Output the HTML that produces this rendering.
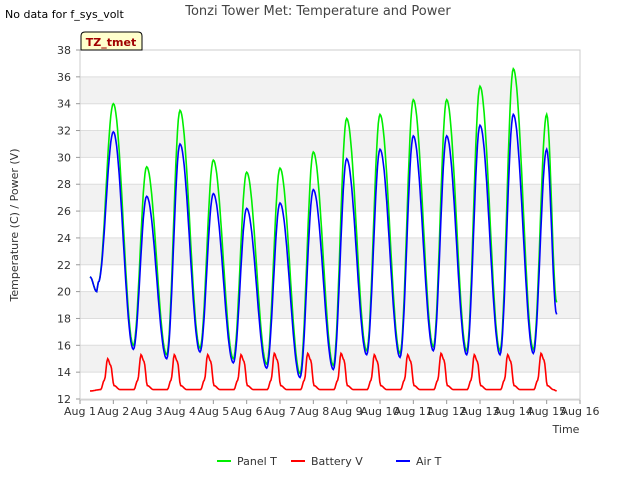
<!DOCTYPE html>
<html><head><meta charset="utf-8"><style>
body{margin:0;background:#fff;font-family:"Liberation Sans",sans-serif;}
svg text{font-family:"DejaVu Sans","Liberation Sans",sans-serif;}
</style></head><body>
<svg id="c" width="640" height="480" xmlns="http://www.w3.org/2000/svg">
<text x="5" y="18" font-size="11" fill="#000">No data for f_sys_volt</text>
<text x="318" y="15" font-size="13" fill="#444" text-anchor="middle">Tonzi Tower Met: Temperature and Power</text>
<g id="grid"></g>
<g id="series"></g>
<rect x="80" y="50" width="500" height="350" fill="none" stroke="#ccc"/>
<g id="axes"></g>
<text x="18" y="225" font-size="11" fill="#333" text-anchor="middle" transform="rotate(-90 18 225)">Temperature (C) / Power (V)</text>
<text x="566" y="433" font-size="11" fill="#333" text-anchor="middle">Time</text>
<g>
<path d="M81,50 L81,36 Q81,32 85,32 L138,32 Q142,32 142,36 L142,50 Z" fill="#ffffcc" stroke="#000"/>
<text x="111" y="46" font-size="11" font-weight="bold" fill="#a00000" text-anchor="middle">TZ_tmet</text>
</g>
<g>
<line x1="217" y1="461" x2="231" y2="461" stroke="#00ee00" stroke-width="2"/><text x="237" y="465" font-size="11" fill="#333">Panel T</text>
<line x1="291" y1="461" x2="305" y2="461" stroke="#ff0000" stroke-width="2"/><text x="311" y="465" font-size="11" fill="#333">Battery V</text>
<line x1="396" y1="461" x2="410" y2="461" stroke="#0000ff" stroke-width="2"/><text x="416" y="465" font-size="11" fill="#333">Air T</text>
</g>
</svg>
<script>
const xTicks=["Aug 1","Aug 2","Aug 3","Aug 4","Aug 5","Aug 6","Aug 7","Aug 8","Aug 9","Aug 10","Aug 11","Aug 12","Aug 13","Aug 14","Aug 15","Aug 16"];
const yTicks=[12,14,16,18,20,22,24,26,28,30,32,34,36,38];
const panelPeaks=[34.0,29.3,33.5,29.8,28.9,29.2,30.4,32.9,33.2,34.3,34.3,35.3,36.6,33.2];
const airPeaks=[31.9,27.1,31.0,27.3,26.2,26.6,27.6,29.9,30.6,31.6,31.6,32.4,33.2,30.6];
const dailyMins=[15.7,15.0,15.5,14.7,14.3,13.6,14.2,15.3,15.1,15.6,15.3,15.3,15.4];
const battPeaks=[15.0,15.3,15.3,15.3,15.3,15.4,15.4,15.4,15.3,15.3,15.4,15.3,15.3,15.4];
const startVals=[21.1,20.0];
const endPanel=19.2, endAir=18.3;
const NS="http://www.w3.org/2000/svg";
const X=d=>80+d*500/15, Y=v=>399-(v-12)*349/26;
const grid=document.getElementById('grid'),axes=document.getElementById('axes'),ser=document.getElementById('series');
function mk(tag,attrs,parent){const e=document.createElementNS(NS,tag);for(const k in attrs)e.setAttribute(k,attrs[k]);parent.appendChild(e);return e;}
for(let i=0;i<yTicks.length-1;i++){
  if(i%2===1){const r=mk('rect',{x:80,y:Y(yTicks[i+1]),width:500,height:Y(yTicks[i])-Y(yTicks[i+1]),fill:'#f2f2f2'},grid);
  
  }
}
yTicks.forEach(v=>{
  const l=mk('line',{x1:80,x2:580,y1:Y(v),y2:Y(v),stroke:'#ddd'},grid);
  
  
  const t=mk('text',{x:71,y:Y(v)+4,'font-size':11,fill:'#333','text-anchor':'end'},axes);t.textContent=v;
  
  
  mk('line',{x1:76,x2:80,y1:Y(v),y2:Y(v),stroke:'#999'},axes);
});
xTicks.forEach((s,i)=>{
  mk('line',{x1:X(i),x2:X(i),y1:400,y2:404,stroke:'#999'},axes);
  const t=mk('text',{x:X(i),y:415,'font-size':11,fill:'#333','text-anchor':'middle'},axes);t.textContent=s;
  
  
});
function curve(keys){let pts=[];for(let k=0;k<keys.length-1;k++){const [t0,v0]=keys[k],[t1,v1]=keys[k+1];const n=Math.max(2,Math.round((t1-t0)*40));for(let j=0;j<n;j++){const f=j/n,g=(1-Math.cos(Math.PI*f))/2;pts.push([t0+(t1-t0)*f,v0+(v1-v0)*g]);}}pts.push(keys[keys.length-1]);return pts;}
function tempKeys(peaks,off,endV){const k=[[0.3,startVals[0]],[0.5,startVals[1]],[0.55,startVals[1]+0.7]];peaks.forEach((p,i)=>{k.push([i+1,p]);if(i<dailyMins.length)k.push([i+1.6,dailyMins[i]+off]);});k.push([14.3,endV]);return k;}
function battKeys(){const k=[[0.3,12.6]];battPeaks.forEach((b,i)=>{const tp=i+1;k.push([tp-0.38,12.7],[tp-0.27,13.4],[tp-0.17,b],[tp-0.08,b-0.5],[tp+0.02,13.0],[tp+0.2,12.7]);});k.push([14.3,12.6]);return k;}
function draw(keys,color,name){const p=curve(keys);const pl=mk('polyline',{points:p.map(q=>X(q[0]).toFixed(1)+','+Y(q[1]).toFixed(1)).join(' '),fill:'none',stroke:color,'stroke-width':1.6},ser);

}
draw(tempKeys(panelPeaks,0.3,endPanel),'#00ee00','panel-t-line');
draw(battKeys(),'#ff0000','battery-v-line');
draw(tempKeys(airPeaks,0,endAir),'#0000ff','air-t-line');
</script>
</body></html>
